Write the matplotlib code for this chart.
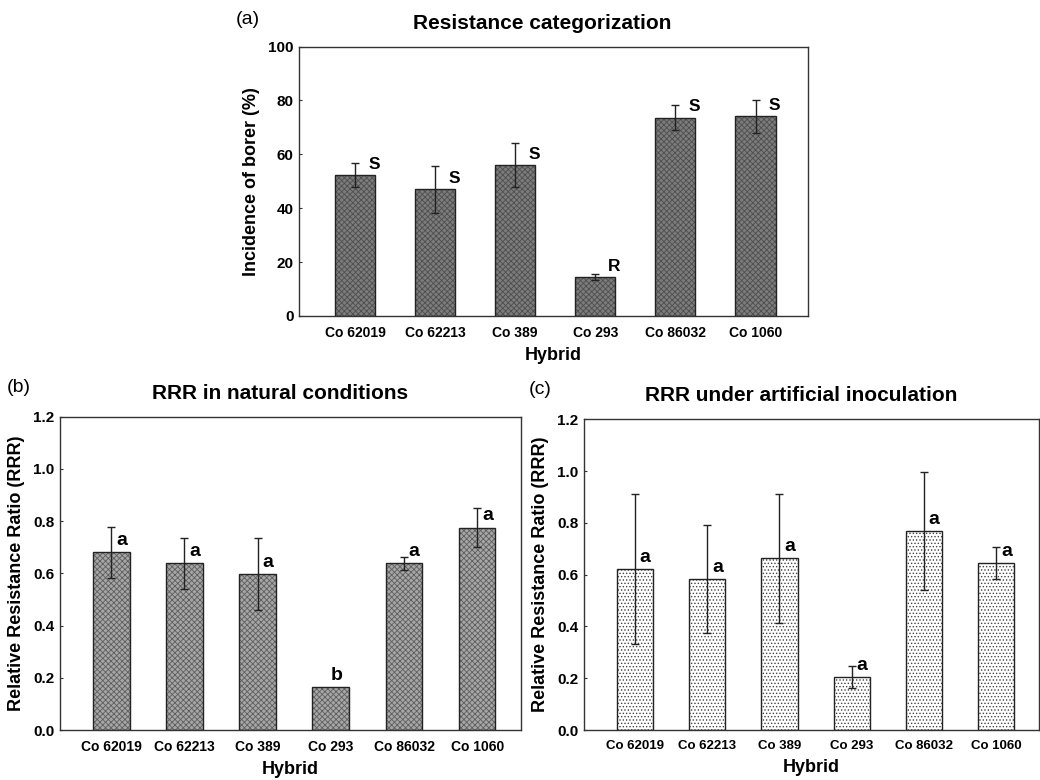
import numpy as np
import matplotlib
matplotlib.use("Agg")
import matplotlib.pyplot as plt

plt.rcParams['font.family'] = ['Liberation Sans', 'DejaVu Sans']
plt.rcParams['hatch.linewidth'] = 0.6

hybrids = ["Co 62019", "Co 62213", "Co 389", "Co 293", "Co 86032", "Co 1060"]

# (a) incidence of borer (%)
incidence = [52.3, 47.0, 56.0, 14.5, 73.6, 74.1]
incidence_err = [4.4, 8.8, 8.2, 1.1, 4.7, 6.2]
incidence_cat = ["S", "S", "S", "R", "S", "S"]

# (b) RRR natural conditions
rrr_nat = [0.680, 0.638, 0.597, 0.163, 0.638, 0.775]
rrr_nat_err = [0.097, 0.099, 0.137, 0.0, 0.026, 0.075]
rrr_nat_grp = ["a", "a", "a", "b", "a", "a"]

# (c) RRR artificial inoculation
rrr_art = [0.622, 0.582, 0.664, 0.206, 0.770, 0.644]
rrr_art_err = [0.290, 0.208, 0.249, 0.042, 0.228, 0.062]
rrr_art_grp = ["a", "a", "a", "a", "a", "a"]

fig = plt.figure(figsize=(10.4, 7.8), dpi=100)


def panel(rect, vals, errs, labels, face, hatch, hcol, ylim, yticks, ylabel,
          title, xlim, lab_dy, tick_fs=10, lab_fs=14):
    ax = fig.add_axes(rect)
    x = np.arange(len(vals))
    # fill + texture, then outline
    ax.bar(x, vals, width=0.5, color=face, hatch=hatch, edgecolor=hcol,
           linewidth=0, zorder=2)
    ax.bar(x, vals, width=0.5, fill=False, edgecolor='#222222',
           linewidth=1.0, zorder=3)
    e = np.array(errs)
    m = e > 0
    ax.errorbar(x[m], np.array(vals)[m], yerr=e[m], fmt='none', ecolor='#222222',
                elinewidth=1.0, capsize=3.2, capthick=1.0, zorder=4)
    for xi, v, lab in zip(x, vals, labels):
        dx = 0.24 if lab in ("S", "R") else (0.08 if lab == "b" else 0.14)
        ax.text(xi + dx, v + lab_dy, lab, ha='center', va='center',
                fontsize=lab_fs, fontweight='bold', zorder=5)
    ax.set_xlim(*xlim)
    ax.set_ylim(*ylim)
    ax.set_yticks(yticks)
    ax.set_xticks(x)
    ax.set_xticklabels(hybrids, fontsize=tick_fs, fontweight='bold')
    ax.tick_params(axis='y', direction='in', length=2, pad=4, color='#333333')
    ax.tick_params(axis='x', length=0, pad=7)
    for s in ax.spines.values():
        s.set_color('#333333')
        s.set_linewidth(1.0)
    ax.set_ylabel(ylabel, fontsize=13, fontweight='bold', labelpad=6)
    ax.set_xlabel("Hybrid", fontsize=13, fontweight='bold', labelpad=5)
    ax.set_title(title, fontsize=15, fontweight='bold', pad=13, x=0.478)
    return ax


ax_a = panel([0.2875, 0.595, 0.489, 0.3453], incidence, incidence_err, incidence_cat,
             '#7c7c7c', 'xxxxxx', '#4e4e4e', (0, 100), [0, 20, 40, 60, 80, 100],
             "Incidence of borer (%)", "Resistance categorization", (-0.7, 5.65),
             4.0, lab_fs=12.5)

ax_b = panel([0.0577, 0.0641, 0.4433, 0.4017], rrr_nat, rrr_nat_err, rrr_nat_grp,
             '#a6a6a6', 'xxxxxx', '#5e5e5e', (0, 1.2), np.arange(0, 1.21, 0.2),
             "Relative Resistance Ratio (RRR)", "RRR in natural conditions",
             (-0.7, 5.6), 0.045)

ax_c = panel([0.5615, 0.0641, 0.4375, 0.3983], rrr_art, rrr_art_err, rrr_art_grp,
             'white', '.....', '#444444', (0, 1.2), np.arange(0, 1.21, 0.2),
             "Relative Resistance Ratio (RRR)", "RRR under artificial inoculation",
             (-0.705, 5.59), 0.045, tick_fs=9.5)

for ax in (ax_b, ax_c):
    ax.yaxis.set_major_formatter(matplotlib.ticker.FormatStrFormatter('%.1f'))
for ax in (ax_a, ax_b, ax_c):
    for t in ax.get_yticklabels():
        t.set_fontsize(11)
        t.set_fontweight('bold')

fig.text(248 / 1040, 1 - 19 / 780, "(a)", fontsize=14, ha='center', va='center')
fig.text(19 / 1040, 1 - 388 / 780, "(b)", fontsize=14, ha='center', va='center')
fig.text(540 / 1040, 1 - 390 / 780, "(c)", fontsize=14, ha='center', va='center')

fig.savefig("out.png", dpi=100)
